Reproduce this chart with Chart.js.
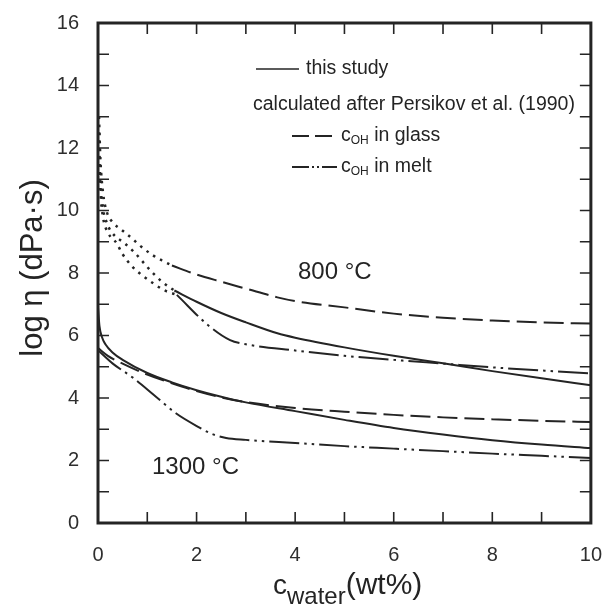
<!DOCTYPE html>
<html>
<head>
<meta charset="utf-8">
<script src="https://cdn.jsdelivr.net/npm/chart.js@4.4.0/dist/chart.umd.min.js"></script>
<style>
  html, body { margin: 0; padding: 0; background: #fff; }
  #wrap { width: 614px; height: 611px; }
</style>
</head>
<body>
<div id="wrap"><canvas id="viscChart" width="614" height="611"></canvas></div>
<script>
// x = water content (wt%), y = log viscosity (dPa s)
const solid800X = [1.55, 2, 2.5, 3, 3.64, 4, 5, 6, 7, 8, 9, 10];
const solid800Y = [7.44, 7.08, 6.72, 6.42, 6.07, 5.93, 5.62, 5.35, 5.11, 4.86, 4.63, 4.41];

const glass800X = [1.5, 2, 2.5, 3, 3.64, 4, 5, 6, 7, 8, 9, 10];
const glass800Y = [8.24, 7.95, 7.72, 7.5, 7.22, 7.1, 6.9, 6.7, 6.57, 6.48, 6.42, 6.38];

const melt800X = [1.6, 2.24, 2.68, 3, 4, 5, 6, 7, 8, 9, 10];
const melt800Y = [7.3, 6.32, 5.85, 5.72, 5.52, 5.35, 5.22, 5.1, 4.98, 4.88, 4.79];

// dotted extrapolations of the 800 °C curves towards low water
const dot1X = [0.02, 0.05, 0.1, 0.18, 0.3, 0.48, 0.68, 0.88, 1.1, 1.3, 1.5];
const dot1Y = [13.0, 11.6, 10.6, 9.95, 9.62, 9.38, 9.12, 8.84, 8.58, 8.4, 8.24];
const dot2X = [0.02, 0.05, 0.1, 0.18, 0.28, 0.54, 0.74, 0.94, 1.1, 1.3, 1.55];
const dot2Y = [12.5, 11.0, 10.1, 9.6, 9.3, 8.95, 8.66, 8.3, 8.02, 7.72, 7.44];
const dot3X = [0.02, 0.05, 0.1, 0.2, 0.38, 0.5, 0.7, 0.9, 1.14, 1.34, 1.6];
const dot3Y = [12.0, 10.6, 9.8, 9.3, 8.95, 8.6, 8.2, 7.92, 7.65, 7.45, 7.3];

const solid1300X = [0, 0.03, 0.08, 0.15, 0.3, 0.5, 1, 1.5, 2, 2.5, 3, 4, 5, 6, 7, 8, 9, 10];
const solid1300Y = [6.9, 6.3, 5.95, 5.72, 5.45, 5.22, 4.8, 4.5, 4.25, 4.04, 3.86, 3.58, 3.3, 3.04, 2.83, 2.65, 2.51, 2.4];

const glass1300X = [0, 0.2, 0.5, 1, 1.5, 2, 2.5, 3, 4, 5, 6, 7, 8, 9, 10];
const glass1300Y = [5.6, 5.35, 5.1, 4.75, 4.47, 4.22, 4.02, 3.87, 3.68, 3.56, 3.46, 3.38, 3.32, 3.27, 3.23];

const melt1300X = [0, 0.3, 0.7, 1.14, 1.58, 2.04, 2.3, 2.6, 3, 4, 5, 6, 7, 8, 9, 10];
const melt1300Y = [5.53, 5.1, 4.66, 4.09, 3.51, 3.07, 2.86, 2.72, 2.66, 2.56, 2.46, 2.38, 2.3, 2.22, 2.15, 2.08];

const xTickLabels = ['0', '2', '4', '6', '8', '10'];
const yTickLabels = ['0', '2', '4', '6', '8', '10', '12', '14', '16'];

const INK = '#242424';
const FONT = '"Liberation Sans", Arial, Helvetica, sans-serif';
const DASH = [20, 7];
const DASHDOT = [30, 5, 2.5, 5, 2.5, 5];
const DOTS = [2.5, 5.5];

function pts(xs, ys) {
  return xs.map((x, i) => ({ x: x, y: ys[i] }));
}

function series(xs, ys, dash, width) {
  return {
    data: pts(xs, ys),
    showLine: true,
    pointRadius: 0,
    borderColor: INK,
    borderWidth: width || 2,
    borderDash: dash || [],
    cubicInterpolationMode: 'monotone',
    fill: false
  };
}

// border box plus inward ticks on all four sides
const framePlugin = {
  id: 'frame',
  afterDraw(chart) {
    const ctx = chart.ctx;
    const a = chart.chartArea;
    const xs = chart.scales.x, ys = chart.scales.y;
    const len = 11;
    ctx.save();
    ctx.strokeStyle = INK;
    ctx.lineWidth = 1.6;
    ctx.beginPath();
    for (let v = 1; v < 10; v++) {
      const px = xs.getPixelForValue(v);
      ctx.moveTo(px, a.bottom); ctx.lineTo(px, a.bottom - len);
      ctx.moveTo(px, a.top); ctx.lineTo(px, a.top + len);
    }
    for (let v = 1; v < 16; v++) {
      const py = ys.getPixelForValue(v);
      ctx.moveTo(a.left, py); ctx.lineTo(a.left + len, py);
      ctx.moveTo(a.right, py); ctx.lineTo(a.right - len, py);
    }
    ctx.stroke();
    ctx.lineWidth = 3;
    ctx.strokeRect(a.left, a.top, a.right - a.left, a.bottom - a.top);
    ctx.restore();
  }
};

// labels, legend and axis titles
const textPlugin = {
  id: 'texts',
  afterDraw(chart) {
    const ctx = chart.ctx;
    ctx.save();
    ctx.fillStyle = INK;
    ctx.strokeStyle = INK;
    ctx.textBaseline = 'middle';
    ctx.textAlign = 'left';

    ctx.font = '24px ' + FONT;
    ctx.fillText('800 °C', 298, 272);
    ctx.fillText('1300 °C', 152, 467);

    // legend
    ctx.font = '19.5px ' + FONT;
    ctx.lineWidth = 1.6;
    ctx.beginPath();
    ctx.moveTo(256, 69); ctx.lineTo(299, 69);
    ctx.stroke();
    ctx.fillText('this study', 306, 69);
    ctx.fillText('calculated after Persikov et al. (1990)', 253, 105);

    ctx.lineWidth = 2;
    ctx.setLineDash([17, 6]);
    ctx.beginPath();
    ctx.moveTo(292, 136); ctx.lineTo(337, 136);
    ctx.stroke();
    ctx.setLineDash([17, 3, 2, 3, 2, 3]);
    ctx.beginPath();
    ctx.moveTo(292, 167); ctx.lineTo(337, 167);
    ctx.stroke();
    ctx.setLineDash([]);

    const subLabel = (x, y, rest) => {
      ctx.font = '19.5px ' + FONT;
      ctx.fillText('c', x, y);
      let w = ctx.measureText('c').width;
      ctx.font = '12px ' + FONT;
      ctx.fillText('OH', x + w, y + 5);
      w += ctx.measureText('OH').width;
      ctx.font = '19.5px ' + FONT;
      ctx.fillText(rest, x + w, y);
    };
    subLabel(341, 136, ' in glass');
    subLabel(341, 167, ' in melt');

    // x title
    ctx.textBaseline = 'alphabetic';
    let x = 273;
    ctx.font = '28px ' + FONT;
    ctx.fillText('c', x, 594);
    x += ctx.measureText('c').width;
    ctx.font = '24px ' + FONT;
    ctx.fillText('water', x, 604);
    x += ctx.measureText('water').width;
    ctx.font = '30px ' + FONT;
    ctx.fillText('(wt%)', x, 594);

    // y title
    ctx.translate(33, 268);
    ctx.rotate(-Math.PI / 2);
    ctx.textAlign = 'center';
    ctx.textBaseline = 'middle';
    ctx.font = '31px ' + FONT;
    ctx.fillText('log η (dPa·s)', 0, 0);
    ctx.restore();
  }
};

const ctx = document.getElementById('viscChart').getContext('2d');
const viscChart = new Chart(ctx, {
  type: 'scatter',
  data: {
    datasets: [
      series(dot1X, dot1Y, DOTS, 2.5),
      series(dot2X, dot2Y, DOTS, 2.5),
      series(dot3X, dot3Y, DOTS, 2.5),
      series(solid800X, solid800Y),
      series(glass800X, glass800Y, DASH),
      series(melt800X, melt800Y, DASHDOT),
      series(solid1300X, solid1300Y),
      series(glass1300X, glass1300Y, DASH),
      series(melt1300X, melt1300Y, DASHDOT)
    ]
  },
  options: {
    responsive: false,
    animation: false,
    layout: { padding: { top: 22, right: 16, left: 0, bottom: 0 } },
    plugins: { legend: { display: false }, tooltip: { enabled: false } },
    scales: {
      x: {
        type: 'linear',
        min: 0,
        max: 10,
        grid: { display: false },
        border: { display: false },
        ticks: {
          stepSize: 2,
          autoSkip: false,
          maxRotation: 0,
          padding: 12,
          color: '#2e2e2e',
          font: { family: FONT, size: 20 },
          callback: (v) => xTickLabels.includes(String(v)) ? String(v) : ''
        },
        afterFit: (s) => { s.height = 88; }
      },
      y: {
        min: 0,
        max: 16,
        grid: { display: false },
        border: { display: false },
        ticks: {
          stepSize: 2,
          autoSkip: false,
          padding: 11,
          color: '#2e2e2e',
          font: { family: FONT, size: 20 },
          callback: (v) => yTickLabels.includes(String(v)) ? String(v) : ''
        },
        afterFit: (s) => { s.width = 98; }
      }
    }
  },
  plugins: [framePlugin, textPlugin]
});
</script>
</body>
</html>
